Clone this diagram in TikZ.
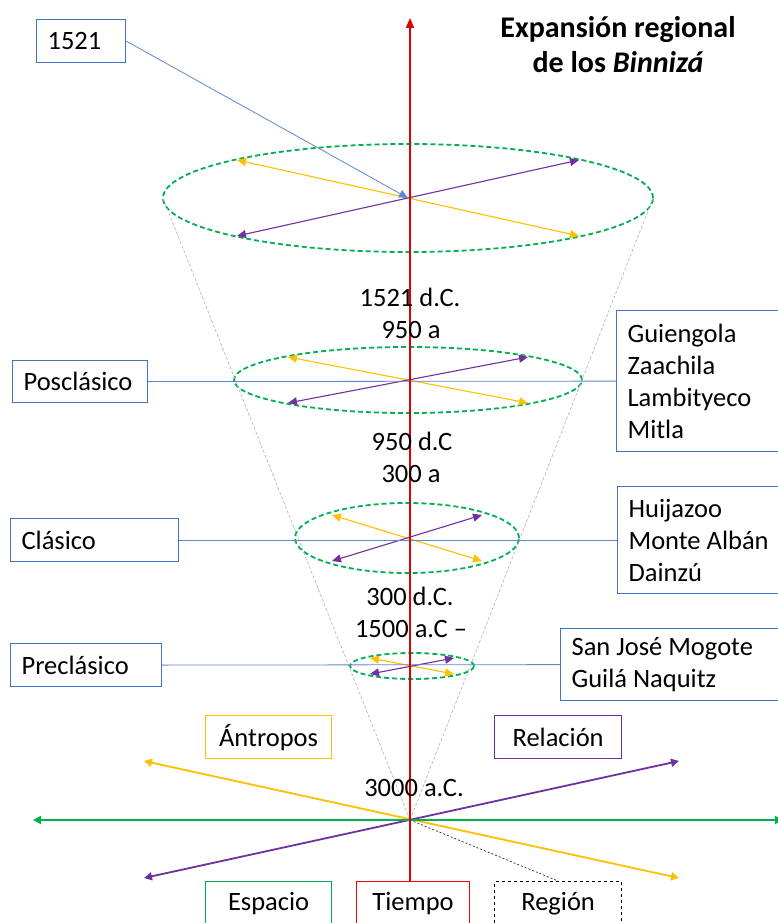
\documentclass[tikz,border=0pt]{standalone}
\usepackage{fontspec}
\setmainfont{Carlito}
\usetikzlibrary{arrows.meta,shapes.geometric,calc}
\definecolor{cblue}{RGB}{68,114,196}
\definecolor{cgreen}{RGB}{0,176,80}
\definecolor{cyellow}{RGB}{255,192,0}
\definecolor{cpurple}{RGB}{112,48,160}
\definecolor{cred}{RGB}{220,0,0}
\definecolor{cgray}{RGB}{185,185,185}
\begin{document}
\begin{tikzpicture}[x=1pt,y=-1pt,
  txt/.style={font=\fontsize{26.5}{32}\selectfont},
  lbox/.style={txt,draw=cblue,line width=1.2pt,anchor=north west,inner xsep=11pt,inner ysep=0pt,align=flush left},
  cbox/.style={txt,draw,line width=1.2pt,anchor=north west,inner sep=0pt,align=center},
  ell/.style={ellipse,draw=cgreen,line width=1.8pt,dash pattern=on 5pt off 3pt,inner sep=0pt,outer sep=0pt},
  yarr/.style={cyellow,line width=1.1pt,arrows={Triangle[length=9pt,width=8pt]-Triangle[length=9pt,width=8pt]}},
  parr/.style={cpurple,line width=1.1pt,arrows={Triangle[length=9pt,width=8pt]-Triangle[length=9pt,width=8pt]}},
  byarr/.style={cyellow,line width=1.8pt,arrows={Triangle[length=8pt,width=8pt]-Triangle[length=8pt,width=8pt]}},
  bparr/.style={cpurple,line width=1.8pt,arrows={Triangle[length=8pt,width=8pt]-Triangle[length=8pt,width=8pt]}},
  bgarr/.style={cgreen,line width=1.8pt,arrows={Triangle[length=8pt,width=8pt]-Triangle[length=8pt,width=8pt]}},
  conn/.style={cblue!85,line width=0.8pt},
  cone/.style={cgray,line width=0.7pt,dash pattern=on 3pt off 2pt},
  datelbl/.style={txt,anchor=base,inner sep=0pt}
]
\path[use as bounding box,clip] (0,0) rectangle (778,923);
\fill[white] (0,0) rectangle (778,923);

\coordinate (O) at (410,820);
\coordinate (top) at (410,18);

% ellipses
\node[ell,minimum width=490pt,minimum height=108pt] (e1) at (408,198) {};
\node[ell,minimum width=348pt,minimum height=66pt] (e2) at (408,380) {};
\node[ell,minimum width=224pt,minimum height=70pt] (e3) at (407,538) {};
\node[ell,minimum width=124pt,minimum height=26pt] (e4) at (412,666) {};

% cone
\draw[cone] (O) -- (e1.west);
\draw[cone] (O) -- (e1.east);

% ellipse arrows
\draw[yarr] ($(e1)+(-171,-38)$) -- ($(e1)+(171,38)$);
\draw[parr] ($(e1)+(-171,38)$) -- ($(e1)+(171,-38)$);
\draw[yarr] ($(e2)+(-120,-23)$) -- ($(e2)+(120,23)$);
\draw[parr] ($(e2)+(-120,23)$) -- ($(e2)+(120,-23)$);
\draw[yarr] ($(e3)+(-75,-23)$) -- ($(e3)+(75,23)$);
\draw[parr] ($(e3)+(-75,23)$) -- ($(e3)+(75,-23)$);
\draw[yarr] ($(e4)+(-42,-8)$) -- ($(e4)+(42,8)$);
\draw[parr] ($(e4)+(-42,8)$) -- ($(e4)+(42,-8)$);

% boxes left
\node[lbox,text width=67pt,minimum height=43pt] (b1521) at (36,19) {1521};
\node[lbox,text width=113pt,minimum height=42pt] (bPos) at (12,360) {Posclásico};
\node[lbox,text width=146pt,minimum height=43pt] (bCla) at (10,518) {Clásico};
\node[lbox,text width=129pt,minimum height=43pt] (bPre) at (10,643) {Preclásico};
% boxes right
\node[lbox,text width=158pt,minimum height=141pt] (rPos) at (616,310) {Guiengola\\Zaachila\\Lambityeco\\Mitla};
\node[lbox,text width=158pt,minimum height=107pt] (rCla) at (617,486) {Huijazoo\\Monte Albán\\Dainzú};
\node[lbox,text width=208pt,minimum height=72pt] (rPre) at (560,628) {San José Mogote\\Guilá Naquitz};

% blue connectors
\draw[conn,-{Triangle[length=9pt,width=8pt]}] (b1521.east) -- (e1.center);
\draw[conn] (bPos.east) -- (rPos.west);
\draw[conn] (bCla.east) -- (rCla.west);
\draw[conn] (bPre.east) -- (rPre.west);

% bottom boxes
\node[cbox,draw=cyellow,minimum width=126pt,minimum height=43pt] (Antropos) at (205,715) {Ántropos};
\node[cbox,draw=cpurple,minimum width=127pt,minimum height=43pt] (Relacion) at (494,715) {Relación};
\node[cbox,draw=cgreen,minimum width=126pt,minimum height=44pt] (Espacio) at (205,881) {Espacio};
\node[cbox,draw=red,minimum width=113pt,minimum height=44pt] (Tiempo) at (356,881) {Tiempo};
\node[cbox,draw=black,dashed,minimum width=127pt,minimum height=44pt] (Region) at (494,881) {Región};

% bottom axes
\draw[byarr] ($(O)+(-266,-59)$) -- ($(O)+(269,58)$);
\draw[bparr] ($(O)+(-266,58)$) -- ($(O)+(269,-59)$);
\draw[bgarr] (33,820) -- (783,820);
\draw[black!75,line width=0.8pt,dash pattern=on 2pt off 2pt] (O) -- (Region.north);

% time axis
\draw[cred,line width=1.5pt,-{Triangle[length=10pt,width=8pt]}] (Tiempo.north -| O) -- (top);

% date labels
\node[datelbl] (d1) at (410,306) {1521 d.C.};
\node[datelbl] (d2) at (411,338) {950 a};
\node[datelbl] (d3) at (412,450) {950 d.C};
\node[datelbl] (d4) at (411,482) {300 a};
\node[datelbl] (d5) at (410,605) {300 d.C.};
\node[datelbl] (d6) at (411,637) {1500 a.C –};
\node[datelbl] (d7) at (414,796) {3000 a.C.};

% title
\node[font=\fontsize{30}{35}\selectfont\bfseries,align=center,inner sep=0pt] (title) at (618,45) {Expansión regional\\de los \textit{Binnizá}};
\end{tikzpicture}
\end{document}
